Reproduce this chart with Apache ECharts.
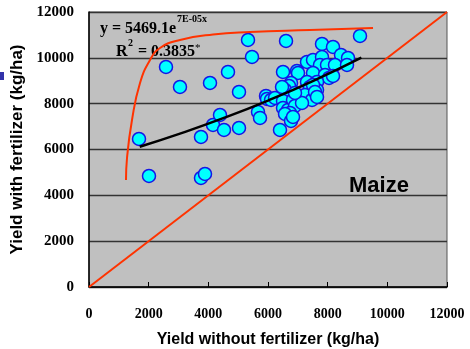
<!DOCTYPE html>
<html>
<head>
<meta charset="utf-8">
<script src="https://cdn.jsdelivr.net/npm/echarts@6/dist/echarts.min.js"></script>
<style>
  html, body { margin: 0; padding: 0; background: #fff; }
  #chart-container { width: 470px; height: 349px; }
</style>
</head>
<body>
<div id="chart-container"></div>
<script>
// yield without fertilizer (x) / with fertilizer (y), kg/ha
var obsX = [1676, 2011, 3754, 3888, 2581, 3050, 4056, 4659, 5028, 5330,
            5464, 3754, 4157, 4391, 4525, 5028, 5665, 5732, 5933, 5967,
            6604, 6503, 6972, 7307, 7509, 7810, 8179, 9084, 7810, 8447,
            8682, 7743, 7978, 8246, 8648, 7006, 7509, 7911, 8045, 8179,
            7307, 7643, 7408, 7643, 6771, 6503, 6704, 6570, 6101, 6235,
            6503, 6972, 7240, 7475, 6503, 6671, 6838, 6905, 7140, 6738,
            6570, 6771, 6402, 6905, 7509, 7576, 7643, 6470, 6838];
var obsY = [6459, 4844, 4757, 4931, 9601, 8728, 8903, 9383, 8510, 10779,
            10037, 6546, 7070, 7506, 6851, 6939, 7637, 7375, 8335, 8204,
            10735, 9383, 9426, 9819, 9906, 10604, 10474, 10954, 10037, 10124,
            9994, 9688, 9688, 9688, 9688, 9339, 9339, 9252, 9121, 9208,
            8946, 8946, 8728, 8597, 8903, 8684, 8772, 8597, 8161, 8248,
            8117, 8248, 8379, 8161, 7812, 7724, 8161, 7899, 8030, 7593,
            7550, 7244, 6851, 8466, 8815, 8510, 8292, 8728, 7419];

// fitted trend y = 5469.1e^(7E-05x)
var trendX = [1700, 3000, 4500, 6000, 7500, 9130];
var trendY = [6120, 6671, 7367, 8136, 8986, 10010];

// upper boundary curve
var boundX = [1240, 1274, 1441, 1710, 2045, 2380, 3050, 4157, 5397, 7408, 9520];
var boundY = [4670, 5630, 7288, 8903, 9906, 10430, 10779, 11020, 11128, 11215, 11303];

// 1:1 line
var lineX = [0, 12000];
var lineY = [0, 12000];

var ticks = [0, 2000, 4000, 6000, 8000, 10000, 12000];

function pairs(xs, ys) {
  return xs.map(function (x, i) { return [x, ys[i]]; });
}

var dom = document.getElementById('chart-container');
var myChart = echarts.init(dom, null, { renderer: 'canvas' });

var serifBold = { fontFamily: 'Liberation Serif', fontWeight: 'bold', color: '#000' };
var plain = function (v) { return String(v); };

var option = {
  backgroundColor: '#fff',
  animation: false,
  grid: {
    left: 89, right: 23, top: 12, bottom: 62,
    outerBoundsMode: 'none',
    show: true,
    backgroundColor: '#c0c0c0',
    borderColor: '#555',
    borderWidth: 1
  },
  xAxis: {
    type: 'value',
    min: ticks[0], max: ticks[ticks.length - 1], interval: 2000,
    name: 'Yield without fertilizer (kg/ha)',
    nameLocation: 'middle',
    nameGap: 45,
    nameTextStyle: { fontFamily: 'Liberation Sans', fontWeight: 'bold', fontSize: 16, color: '#000' },
    axisLine: { show: true, onZero: false, lineStyle: { color: '#000', width: 1.5 } },
    axisTick: { show: true, inside: true, length: 5, lineStyle: { color: '#000' } },
    axisLabel: Object.assign({ fontSize: 14, margin: 20, formatter: plain }, serifBold),
    splitLine: { show: false }
  },
  yAxis: {
    type: 'value',
    min: ticks[0], max: ticks[ticks.length - 1], interval: 2000,
    name: 'Yield with fertilizer (kg/ha)',
    nameLocation: 'middle',
    nameGap: 62,
    nameTextStyle: { fontFamily: 'Liberation Sans', fontWeight: 'bold', fontSize: 17, color: '#000' },
    axisLine: { show: true, onZero: false, lineStyle: { color: '#000', width: 1.5 } },
    axisTick: { show: false },
    axisLabel: Object.assign({ fontSize: 15, margin: 15, formatter: plain }, serifBold),
    splitLine: { show: true, lineStyle: { color: '#333', width: 1.3 } }
  },
  series: [
    {
      name: 'obs',
      type: 'scatter',
      data: pairs(obsX, obsY),
      symbol: 'circle',
      symbolSize: 13,
      itemStyle: { color: '#00ffff', borderColor: '#1515e6', borderWidth: 1.5, opacity: 1 }
    },
    {
      name: 'trend',
      type: 'line',
      data: pairs(trendX, trendY),
      smooth: true,
      symbol: 'none',
      lineStyle: { color: '#000', width: 2.5 }
    },
    {
      name: 'boundary',
      type: 'line',
      data: pairs(boundX, boundY),
      smooth: true,
      symbol: 'none',
      lineStyle: { color: '#ff3300', width: 2 }
    },
    {
      name: '1:1',
      type: 'line',
      data: pairs(lineX, lineY),
      symbol: 'none',
      lineStyle: { color: '#ff3300', width: 2 }
    }
  ],
  graphic: [
    { type: 'text', left: 100, top: 21, style: { text: 'y = 5469.1e', font: 'bold 16px "Liberation Serif"', fill: '#000' } },
    { type: 'text', left: 177, top: 14, style: { text: '7E-05x', font: 'bold 10px "Liberation Serif"', fill: '#000' } },
    { type: 'text', left: 116, top: 44, style: { text: 'R', font: 'bold 16px "Liberation Serif"', fill: '#000' } },
    { type: 'text', left: 128, top: 38, style: { text: '2', font: 'bold 10px "Liberation Serif"', fill: '#000' } },
    { type: 'text', left: 134, top: 44, style: { text: ' = 0.3835', font: 'bold 16px "Liberation Serif"', fill: '#000' } },
    { type: 'text', left: 195, top: 43, style: { text: '*', font: '11px "Liberation Serif"', fill: '#000' } },
    { type: 'text', left: 349, top: 175, style: { text: 'Maize', font: 'bold 22px "Liberation Sans"', fill: '#000' } },
    { type: 'rect', left: 0, top: 72, shape: { width: 4, height: 8 }, style: { fill: '#3333aa' } }
  ]
};

myChart.setOption(option);
window.addEventListener('resize', myChart.resize);
</script>
</body>
</html>
